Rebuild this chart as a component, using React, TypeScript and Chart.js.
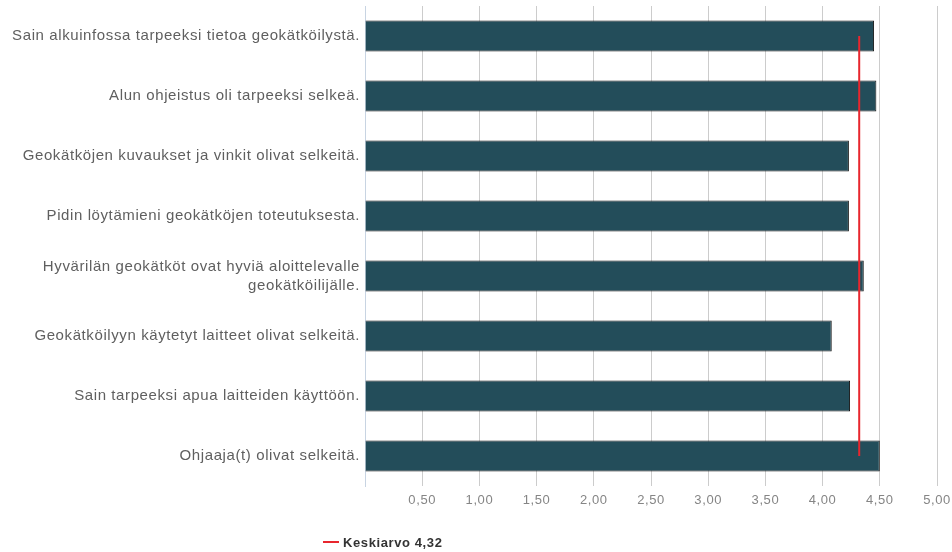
import React, { useEffect, useRef } from "react";
import { Chart, registerables } from "chart.js";

Chart.register(...registerables);

const CATEGORIES: (string | string[])[] = [
  "Sain alkuinfossa tarpeeksi tietoa geokätköilystä.",
  "Alun ohjeistus oli tarpeeksi selkeä.",
  "Geokätköjen kuvaukset ja vinkit olivat selkeitä.",
  "Pidin löytämieni geokätköjen toteutuksesta.",
  ["Hyvärilän geokätköt ovat hyviä aloittelevalle", "geokätköilijälle."],
  "Geokätköilyyn käytetyt laitteet olivat selkeitä.",
  "Sain tarpeeksi apua laitteiden käyttöön.",
  "Ohjaaja(t) olivat selkeitä.",
];

const VALUES: number[] = [4.45, 4.47, 4.23, 4.23, 4.36, 4.08, 4.24, 4.5];

const MEAN = 4.32;
const MEAN_LABEL = "Keskiarvo 4,32";

const X_MIN = 0;
const X_MAX = 5;
const X_STEP = 0.5;

const BAR_COLOR = "#234d5a";
const BAR_BORDER = "#141414";
const MEAN_COLOR = "#e8262e";
const FONT = "'Liberation Sans', Arial, sans-serif";

const spacingPlugin = {
  id: "letterSpacing",
  beforeLayout(chart: any) {
    chart.ctx.letterSpacing = "0.6px";
  },
  beforeDraw(chart: any) {
    chart.ctx.letterSpacing = "0.6px";
  },
};

const legendPlugin = {
  id: "meanLegend",
  afterDraw(chart: any) {
    const ctx = chart.ctx;
    ctx.save();
    ctx.letterSpacing = "0.6px";
    ctx.strokeStyle = MEAN_COLOR;
    ctx.lineWidth = 2;
    ctx.beginPath();
    ctx.moveTo(323, 542);
    ctx.lineTo(339, 542);
    ctx.stroke();
    ctx.font = `bold 13px ${FONT}`;
    ctx.fillStyle = "#333333";
    ctx.textBaseline = "middle";
    ctx.textAlign = "left";
    ctx.fillText(MEAN_LABEL, 343, 543);
    ctx.restore();
  },
};

export default function App() {
  const ref = useRef<HTMLCanvasElement | null>(null);

  useEffect(() => {
    document.body.style.margin = "0";
    if (!ref.current) return;
    const chart = new Chart(ref.current, {
      type: "bar",
      data: {
        labels: CATEGORIES as any,
        datasets: [
          {
            type: "line",
            label: MEAN_LABEL,
            data: CATEGORIES.map(() => MEAN),
            borderColor: MEAN_COLOR,
            backgroundColor: MEAN_COLOR,
            borderWidth: 2,
            pointRadius: 0,
            fill: false,
          } as any,
          {
            type: "bar",
            label: "Vastaukset",
            data: VALUES,
            backgroundColor: BAR_COLOR,
            borderColor: BAR_BORDER,
            borderWidth: 1,
            barPercentage: 0.52,
            categoryPercentage: 1,
          },
        ],
      },
      options: {
        indexAxis: "y",
        animation: false,
        responsive: false,
        maintainAspectRatio: false,
        layout: { padding: { top: 6, right: 15, bottom: 0, left: 0 } },
        plugins: {
          legend: { display: false },
          tooltip: { enabled: false },
        },
        scales: {
          x: {
            min: X_MIN,
            max: X_MAX,
            ticks: {
              stepSize: X_STEP,
              color: "#858585",
              padding: 7,
              font: { family: FONT, size: 13 },
              callback: (v: any) =>
                Number(v) === 0 ? "" : Number(v).toFixed(2).replace(".", ","),
            },
            grid: {
              drawTicks: false,
              color: (c: any) =>
                c.tick && c.tick.value === 0 ? "rgba(0,0,0,0)" : "#cccccc",
              lineWidth: 1,
            },
            border: { display: false },
            afterFit: (s: any) => {
              s.height = 66;
              s.paddingLeft = 0;
              s.paddingRight = 0;
            },
          },
          y: {
            ticks: {
              color: "#5f5f5f",
              padding: 5,
              font: { family: FONT, size: 15, lineHeight: 1.27 },
            },
            grid: { display: false, drawTicks: false },
            border: { display: true, color: "#c8d4e2", width: 1 },
            afterFit: (s: any) => {
              s.width = 365;
              s.paddingTop = 0;
              s.paddingBottom = 0;
            },
          },
        },
      },
      plugins: [spacingPlugin, legendPlugin],
    });
    return () => chart.destroy();
  }, []);

  return (
    <div style={{ position: "fixed", left: 0, top: 0, width: 952, height: 552, background: "#fff" }}>
      <canvas ref={ref} width={952} height={552} />
    </div>
  );
}
